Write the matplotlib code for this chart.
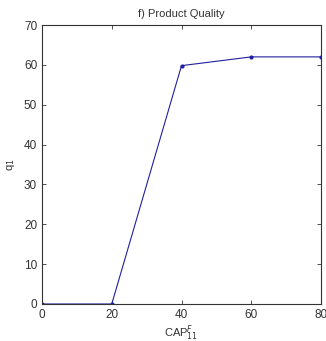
import matplotlib
matplotlib.use("Agg")
import matplotlib.pyplot as plt

x_vals = [0, 20, 40, 60, 80]
q_vals = [0, 0, 59.8, 62, 62]
x_ticks = [0, 20, 40, 60, 80]
y_ticks = [0, 10, 20, 30, 40, 50, 60, 70]

plt.rcParams['font.family'] = ['Liberation Sans', 'DejaVu Sans']
fig = plt.figure(figsize=(3.26, 3.41), dpi=100)
ax = fig.add_axes([42/326, 37/341, 279/326, 279/341])
ax.plot(x_vals, q_vals, color='#2020a0', lw=0.8, marker='.', ms=4)
ax.set_xlim(0, 80)
ax.set_ylim(0, 70)
ax.set_xticks(x_ticks)
ax.set_yticks(y_ticks)
ax.tick_params(direction='in', top=True, right=True, labelsize=8.5, colors='#333333', length=3, width=0.6)
for s in ax.spines.values():
    s.set_linewidth(0.8)
    s.set_color('#333333')
ax.set_title('f) Product Quality', fontsize=8, color='#333333', pad=6)
ax.set_xlabel('CAP$^{F}_{11}$', fontsize=8, color='#333333', labelpad=2)
ax.set_ylabel('q$_1$', fontsize=8, color='#333333', labelpad=5)
fig.savefig('out.png', dpi=100)
